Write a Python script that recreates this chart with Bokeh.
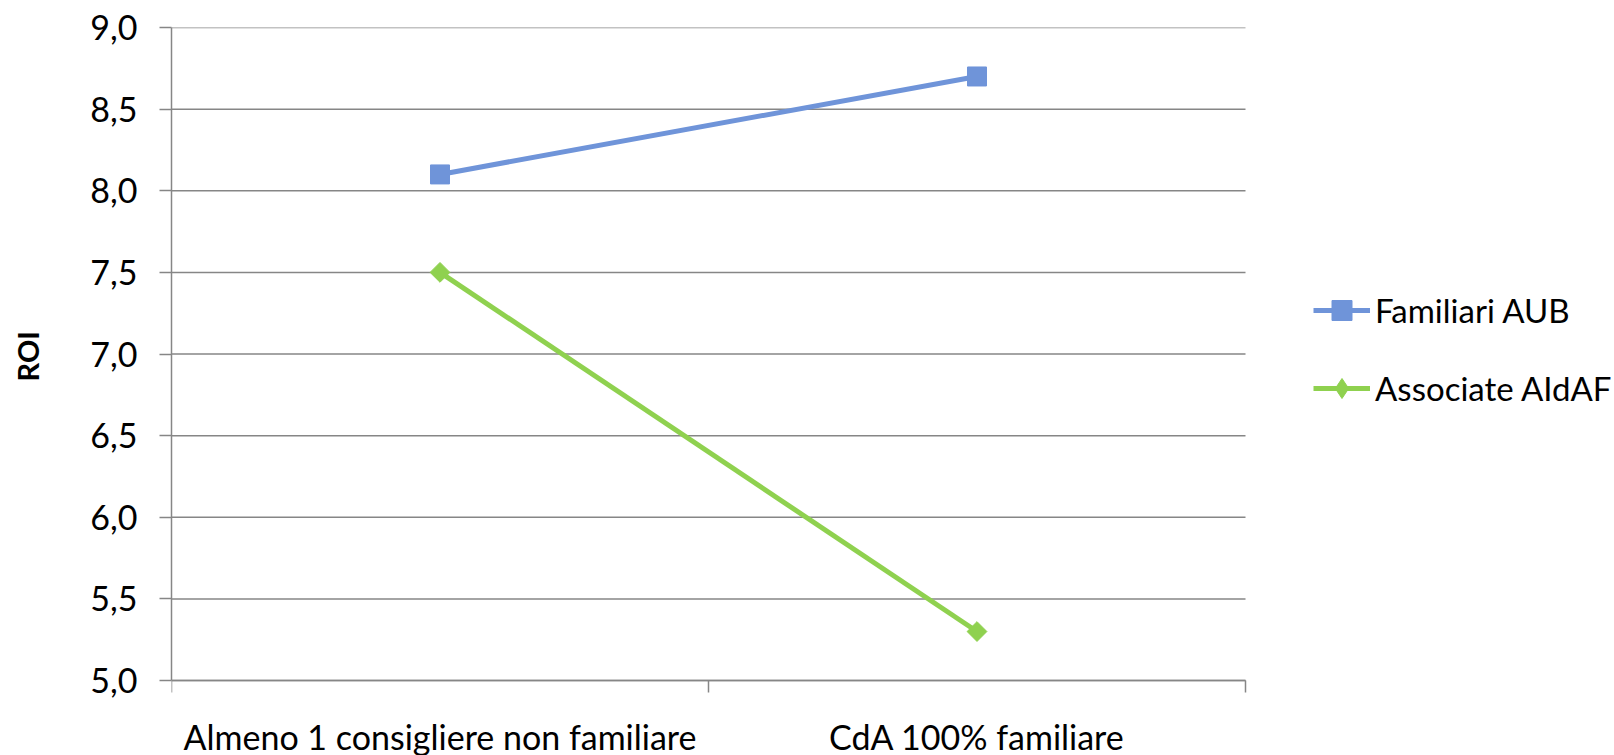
import math
from bokeh.plotting import figure
from bokeh.models import FixedTicker, CustomJSTickFormatter, Range1d, Legend, LegendItem
from bokeh.embed import file_html
from bokeh.resources import INLINE

categories = ["Almeno 1 consigliere non familiare", "CdA 100% familiare"]
familiari_aub = [8.1, 8.7]
associate_aidaf = [7.5, 5.3]
y_ticks = [5.0, 5.5, 6.0, 6.5, 7.0, 7.5, 8.0, 8.5, 9.0]
y_title = "ROI"

FONT = "Lato"
GRID = "#868686"
BLUE = "#6F94D9"
GREEN = "#8FD14F"

W, H = 1614, 755
n = len(categories)
xs = [i + 0.5 for i in range(n)]
y_min, y_max = y_ticks[0], y_ticks[-1]

# frame spans from x=171 to the right edge; the category area ends at 1245
frame_left, cat_right = 171, 1245
x_end = n * (W - frame_left) / (cat_right - frame_left)
# frame spans from y=27 to the bottom edge; the value area ends at 680
frame_top, val_bottom = 27, 680
px_per_unit = (val_bottom - frame_top) / (y_max - y_min)
y_start = y_min - (H - val_bottom) / px_per_unit

p = figure(width=W, height=H, output_backend="svg", toolbar_location=None,
           x_range=Range1d(0, x_end), y_range=Range1d(y_start, y_max),
           min_border_left=frame_left, min_border_right=0, min_border_top=frame_top,
           min_border_bottom=0)
p.outline_line_color = None
p.background_fill_color = "white"
p.border_fill_color = "white"

# gridlines limited to the category area
p.segment(x0=[0] * len(y_ticks), x1=[n] * len(y_ticks), y0=y_ticks, y1=y_ticks,
          line_color=GRID, line_width=1.5)

# x axis, pinned at the lowest value
p.xaxis.fixed_location = y_min
p.xaxis.bounds = (0, n)
p.xaxis.ticker = FixedTicker(ticks=xs, minor_ticks=list(range(n + 1)))
p.xaxis.major_label_overrides = {x: c for x, c in zip(xs, categories)}
p.xaxis.major_tick_line_color = None
p.xaxis.minor_tick_line_color = GRID
p.xaxis.minor_tick_line_width = 1.5
p.xaxis.minor_tick_out = 12
p.xaxis.minor_tick_in = 0
p.xaxis.axis_line_color = GRID
p.xaxis.axis_line_width = 1.5
p.xaxis.major_label_text_font = FONT
p.xaxis.major_label_text_font_size = "34px"
p.xaxis.major_label_text_color = "black"
p.xaxis.major_label_standoff = 23

# y axis
p.yaxis.bounds = (y_min, y_max)
p.yaxis.ticker = FixedTicker(ticks=y_ticks)
p.yaxis.formatter = CustomJSTickFormatter(code="return tick.toFixed(1).replace('.', ',');")
p.yaxis.minor_tick_line_color = None
p.yaxis.major_tick_line_color = GRID
p.yaxis.major_tick_line_width = 1.5
p.yaxis.major_tick_out = 12
p.yaxis.major_tick_in = 0
p.yaxis.axis_line_color = GRID
p.yaxis.axis_line_width = 1.5
p.yaxis.major_label_text_font = FONT
p.yaxis.major_label_text_font_size = "34px"
p.yaxis.major_label_text_color = "black"
p.yaxis.major_label_standoff = 22
# the title is centred on the (taller) frame; leading no-break spaces lift it
p.yaxis.axis_label = "\u00a0" * 10 + y_title
p.yaxis.axis_label_text_font = FONT
p.yaxis.axis_label_text_font_style = "bold"
p.yaxis.axis_label_text_font_size = "29px"
p.yaxis.axis_label_text_color = "black"
p.yaxis.axis_label_standoff = 42

p.xgrid.grid_line_color = None
p.ygrid.grid_line_color = None

l1 = p.line(xs, familiari_aub, line_color=BLUE, line_width=5)
m1 = p.scatter(xs, familiari_aub, marker="square", size=19, fill_color=BLUE, line_color=BLUE)
l2 = p.line(xs, associate_aidaf, line_color=GREEN, line_width=5)
m2 = p.scatter(xs, associate_aidaf, marker="square", size=14, angle=math.pi / 4,
               fill_color=GREEN, line_color=GREEN)
# legend-only diamond (NaN value, so it is only drawn as the legend glyph)
m2_leg = p.scatter(x=[xs[0]], y=[float("nan")], marker="diamond", size=20,
                   fill_color=GREEN, line_color=GREEN)

legend = Legend(items=[LegendItem(label="Familiari AUB", renderers=[l1, m1]),
                       LegendItem(label="Associate AIdAF", renderers=[l2, m2_leg])],
                location=(1142, H - 413), glyph_width=57, glyph_height=50, spacing=28,
                label_standoff=5, padding=0, margin=0,
                border_line_color=None, background_fill_alpha=0,
                label_text_font=FONT, label_text_font_size="33px", label_text_color="black")
p.add_layout(legend, "center")

open("out.html", "w").write(file_html(p, INLINE))
